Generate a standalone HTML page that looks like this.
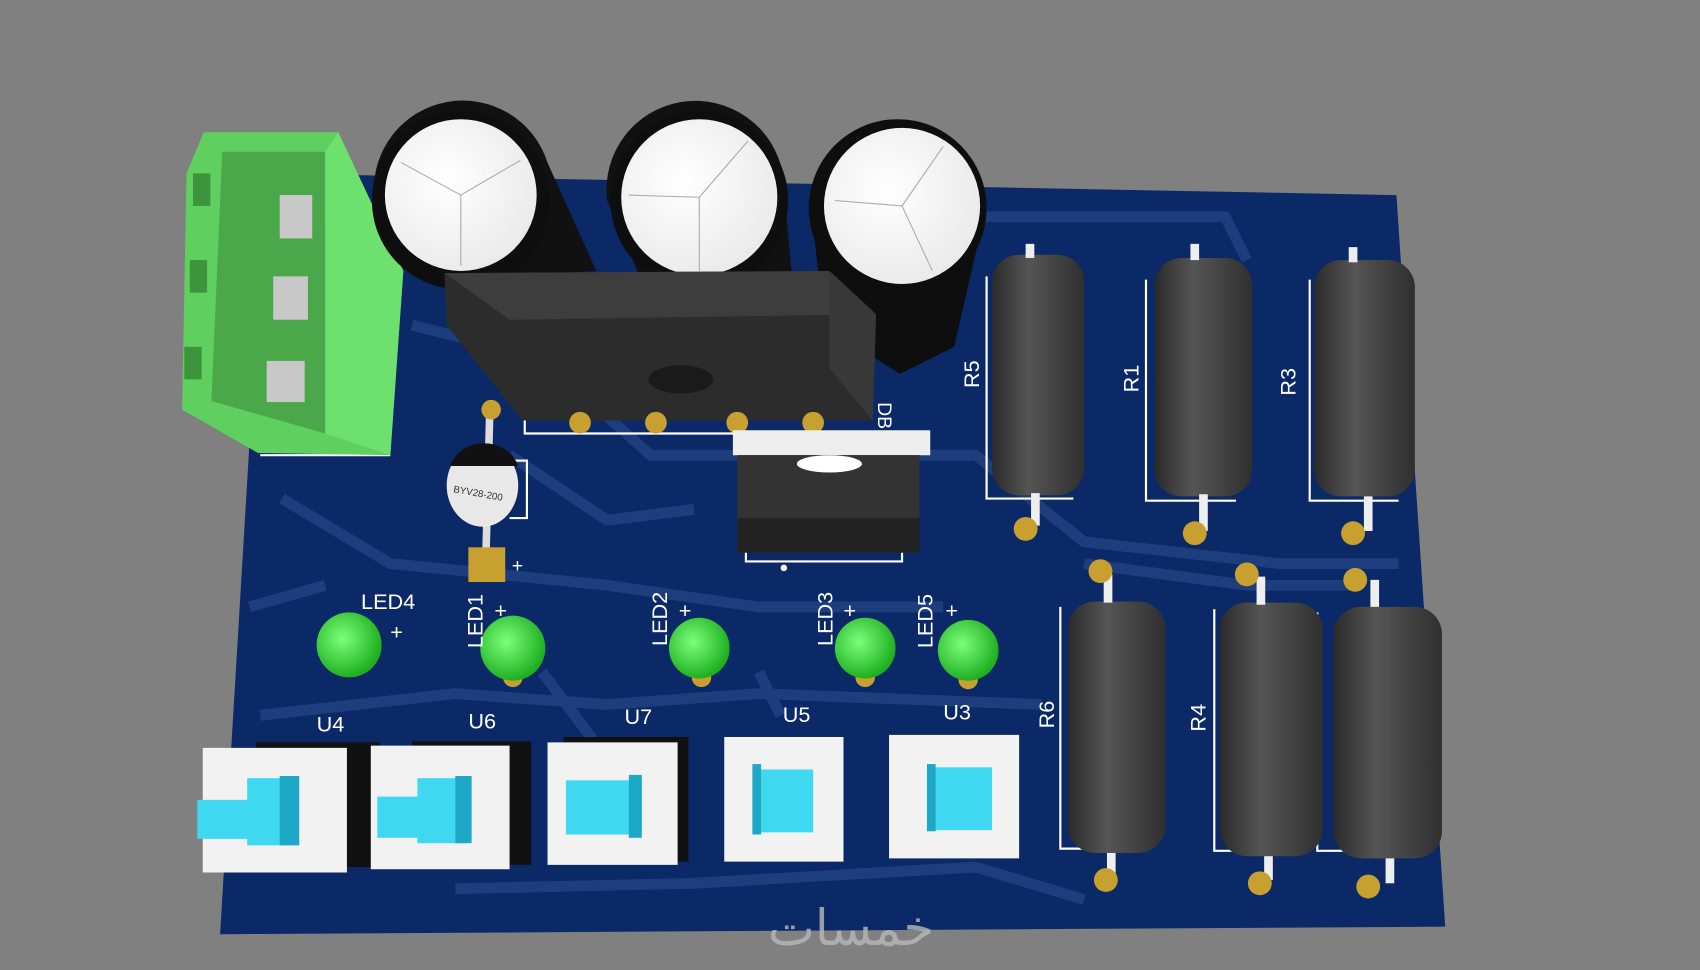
<!DOCTYPE html>
<html><head><meta charset="utf-8"><style>
html,body{margin:0;padding:0;background:#808080;}
svg{display:block;}
text{font-family:"Liberation Sans",sans-serif;fill:#fff;}
</style></head><body>
<svg width="1700" height="970" viewBox="0 0 1568 895" preserveAspectRatio="none" xmlns="http://www.w3.org/2000/svg">
<defs>
<linearGradient id="res" x1="0" x2="1" y1="0" y2="0">
<stop offset="0" stop-color="#2a2a2a"/><stop offset="0.4" stop-color="#555"/><stop offset="1" stop-color="#2f2f2f"/></linearGradient>
<radialGradient id="led" cx="0.4" cy="0.4" r="0.6"><stop offset="0" stop-color="#7dff7d"/><stop offset="1" stop-color="#1fb01f"/></radialGradient>
<radialGradient id="cap" cx="0.4" cy="0.4" r="0.7"><stop offset="0" stop-color="#fff"/><stop offset="1" stop-color="#e8e8e8"/></radialGradient>
</defs>
<rect width="1568" height="895" fill="#808080"/>
<!-- board -->
<polygon points="245,160 1288,180 1333,855 203,862" fill="#0b2966"/>
<g stroke="#1d3d7c" stroke-width="10" fill="none" stroke-linejoin="round">
<path d="M380,300 L500,330 L600,420 L900,420 L1000,500 L1180,520 L1290,520"/>
<path d="M260,460 L360,520 L560,540 L700,560 L870,560"/>
<path d="M240,660 L420,640 L560,650 L700,640 L960,650"/>
<path d="M420,820 L640,815 L900,800 L1000,830"/>
<path d="M900,200 L1130,200 L1150,240"/>
<path d="M470,420 L560,480 L640,470"/>
<path d="M1000,520 L1150,540 L1250,540"/>
<path d="M230,560 L300,540"/>
<path d="M500,620 L560,700"/>
<path d="M700,620 L720,660"/>
</g>
<!-- silkscreen outlines -->
<g stroke="#fff" stroke-width="2" fill="none">
<path d="M910,255 L910,460 L990,460"/>
<path d="M1057,258 L1057,462 L1140,462"/>
<path d="M1208,258 L1208,462 L1290,462"/>
<path d="M978,560 L978,783 L1060,783"/>
<path d="M1120,562 L1120,785 L1200,785"/>
<path d="M1215,565 L1215,785 L1240,785"/>
<path d="M240,420 L360,420"/>
<path d="M484,385 L484,400 L810,400"/>
<path d="M688,505 L688,518 L832,518 L832,505"/>
<path d="M470,425 L486,425 L486,478 L470,478"/>
</g>
<!-- green connector -->
<polygon points="188,122 312,122 372,250 360,420 238,418 168,378 172,160" fill="#5fcf5f"/>
<polygon points="205,140 300,140 300,400 195,370" fill="#4aa84a"/>
<polygon points="300,140 312,122 372,250 360,420 300,400" fill="#6ee06e"/>
<g fill="#c8c8c8"><rect x="258" y="180" width="30" height="40"/><rect x="252" y="255" width="32" height="40"/><rect x="246" y="333" width="35" height="38"/></g>
<g fill="#3c943c"><rect x="178" y="160" width="16" height="30"/><rect x="175" y="240" width="16" height="30"/><rect x="170" y="320" width="16" height="30"/></g>
<!-- capacitors -->
<g>
<path d="M345,180 A82,82 0 0 1 505,150 L550,250 L400,260 Z" fill="#111"/>
<circle cx="425" cy="185" r="82" fill="#0e0e0e"/>
<circle cx="425" cy="180" r="70" fill="url(#cap)"/>
<path d="M560,185 A82,82 0 0 1 722,160 L730,250 L590,255 Z" fill="#111"/>
<circle cx="645" cy="185" r="82" fill="#0e0e0e"/>
<circle cx="645" cy="182" r="72" fill="url(#cap)"/>
<path d="M748,190 L760,300 L830,345 L880,320 L910,190 Z" fill="#0e0e0e"/>
<circle cx="828" cy="192" r="82" fill="#0e0e0e"/>
<circle cx="832" cy="190" r="72" fill="url(#cap)"/>
<g stroke="#aaa" stroke-width="1"><path d="M425,180 L425,245 M425,180 L370,150 M425,180 L480,148"/><path d="M645,182 L645,250 M645,182 L580,180 M645,182 L690,130"/><path d="M832,190 L770,185 M832,190 L860,250 M832,190 L870,135"/></g>
</g>
<!-- bridge -->
<polygon points="410,252 765,250 808,290 805,388 482,388 412,300" fill="#2c2c2c"/>
<polygon points="410,252 765,250 808,290 470,295" fill="#3d3d3d"/>
<polygon points="765,250 808,290 805,388 765,340" fill="#383838"/>
<ellipse cx="628" cy="350" rx="30" ry="13" fill="#1a1a1a"/>
<g fill="#c8a030"><circle cx="535" cy="390" r="10"/><circle cx="605" cy="390" r="10"/><circle cx="680" cy="390" r="10"/><circle cx="750" cy="390" r="10"/></g>
<text x="808" y="373" font-size="18" transform="rotate(90 810 373)">DB</text>
<!-- regulator -->
<polygon points="676,397 858,397 858,420 676,420" fill="#eee"/>
<polygon points="680,420 848,420 848,510 680,510" fill="#222"/>
<polygon points="680,420 848,420 848,478 680,478" fill="#333"/>
<ellipse cx="765" cy="428" rx="30" ry="8" fill="#fff"/>
<circle cx="723" cy="524" r="3" fill="#fff"/>
<!-- diode -->
<path d="M452,370 L448,520" stroke="#ddd" stroke-width="7"/>
<circle cx="453" cy="378" r="9" fill="#c8a030"/>
<rect x="432" y="505" width="34" height="32" fill="#c8a030"/>
<ellipse cx="445" cy="448" rx="33" ry="38" fill="#e8e8e8"/>
<path d="M415,430 A33,30 0 0 1 478,430 Z" fill="#111"/>
<text x="418" y="458" font-size="9" fill="#333" style="fill:#333" transform="rotate(10 440 455)">BYV28-200</text>
<text x="472" y="528" font-size="18">+</text>
<!-- resistors -->
<g fill="url(#res)">
<rect x="915" y="235" width="85" height="222" rx="25"/>
<rect x="1065" y="238" width="90" height="220" rx="25"/>
<rect x="1212" y="240" width="93" height="218" rx="25"/>
<rect x="985" y="555" width="90" height="232" rx="25"/>
<rect x="1125" y="556" width="95" height="234" rx="25"/>
<rect x="1230" y="560" width="100" height="232" rx="25"/>
</g>
<g stroke="#eee" stroke-width="8" fill="none">
<path d="M950,225 L950,238"/><path d="M1102,225 L1102,240"/><path d="M1248,228 L1248,242"/>
<path d="M955,455 L955,485"/><path d="M1110,456 L1110,490"/><path d="M1262,458 L1262,490"/>
<path d="M1022,530 L1022,556"/><path d="M1163,532 L1163,558"/><path d="M1268,535 L1268,560"/>
<path d="M1025,787 L1025,810"/><path d="M1170,790 L1170,812"/><path d="M1282,792 L1282,815"/>
</g>
<g fill="#c8a030"><circle cx="946" cy="488" r="11"/><circle cx="1102" cy="492" r="11"/><circle cx="1248" cy="492" r="11"/><circle cx="1015" cy="527" r="11"/><circle cx="1150" cy="530" r="11"/><circle cx="1250" cy="535" r="11"/><circle cx="1020" cy="812" r="11"/><circle cx="1162" cy="815" r="11"/><circle cx="1262" cy="818" r="11"/></g>
<g font-size="20">
<text x="903" y="358" transform="rotate(-90 903 358)">R5</text>
<text x="1050" y="362" transform="rotate(-90 1050 362)">R1</text>
<text x="1195" y="365" transform="rotate(-90 1195 365)">R3</text>
<text x="972" y="672" transform="rotate(-90 972 672)">R6</text>
<text x="1112" y="675" transform="rotate(-90 1112 675)">R4</text>
</g>
<!-- LEDs -->
<g>
<circle cx="647" cy="625" r="9" fill="#c8a030"/><circle cx="473" cy="625" r="9" fill="#c8a030"/><circle cx="798" cy="625" r="9" fill="#c8a030"/><circle cx="893" cy="627" r="9" fill="#c8a030"/>
<circle cx="322" cy="595" r="30" fill="url(#led)"/>
<circle cx="473" cy="598" r="30" fill="url(#led)"/>
<circle cx="645" cy="598" r="28" fill="url(#led)"/>
<circle cx="798" cy="598" r="28" fill="url(#led)"/>
<circle cx="893" cy="600" r="28" fill="url(#led)"/>
</g>
<g font-size="20">
<text x="333" y="562">LED4</text><text x="360" y="590">+</text>
<text x="445" y="598" transform="rotate(-90 445 598)">LED1</text><text x="456" y="570">+</text>
<text x="615" y="596" transform="rotate(-90 615 596)">LED2</text><text x="626" y="570">+</text>
<text x="768" y="596" transform="rotate(-90 768 596)">LED3</text><text x="778" y="570">+</text>
<text x="860" y="598" transform="rotate(-90 860 598)">LED5</text><text x="872" y="570">+</text>
<text x="292" y="675">U4</text><text x="432" y="672">U6</text><text x="576" y="668">U7</text><text x="722" y="666">U5</text><text x="870" y="664">U3</text>
</g>
<!-- switches -->
<g>
<polygon points="236,685 350,685 350,800 236,800" fill="#111"/>
<polygon points="187,690 320,690 320,805 187,805" fill="#f2f2f2"/>
<polygon points="380,684 490,684 490,798 380,798" fill="#111"/>
<polygon points="342,688 470,688 470,802 342,802" fill="#f2f2f2"/>
<polygon points="520,680 635,680 635,795 520,795" fill="#111"/>
<polygon points="505,685 625,685 625,798 505,798" fill="#f2f2f2"/>
<polygon points="668,680 778,680 778,795 668,795" fill="#f2f2f2"/>
<polygon points="820,678 940,678 940,792 820,792" fill="#f2f2f2"/>
<g fill="#40d8f0">
<rect x="182" y="738" width="60" height="36"/><rect x="228" y="718" width="40" height="62"/>
<rect x="348" y="735" width="55" height="38"/><rect x="385" y="718" width="45" height="60"/>
<rect x="522" y="720" width="68" height="50"/>
<rect x="694" y="710" width="56" height="58"/>
<rect x="855" y="708" width="60" height="58"/>
</g>
<g fill="#1ea8c8"><rect x="258" y="716" width="18" height="64"/><rect x="420" y="716" width="15" height="62"/><rect x="580" y="715" width="12" height="58"/><rect x="694" y="705" width="8" height="65"/><rect x="855" y="705" width="8" height="62"/></g>
</g>
<!-- watermark -->
<text x="785" y="872" font-size="46" text-anchor="middle" style="fill:#b9b9b9;font-family:'Liberation Sans','DejaVu Sans',sans-serif" opacity="0.8">خمسات</text>
</svg>
</body></html>
